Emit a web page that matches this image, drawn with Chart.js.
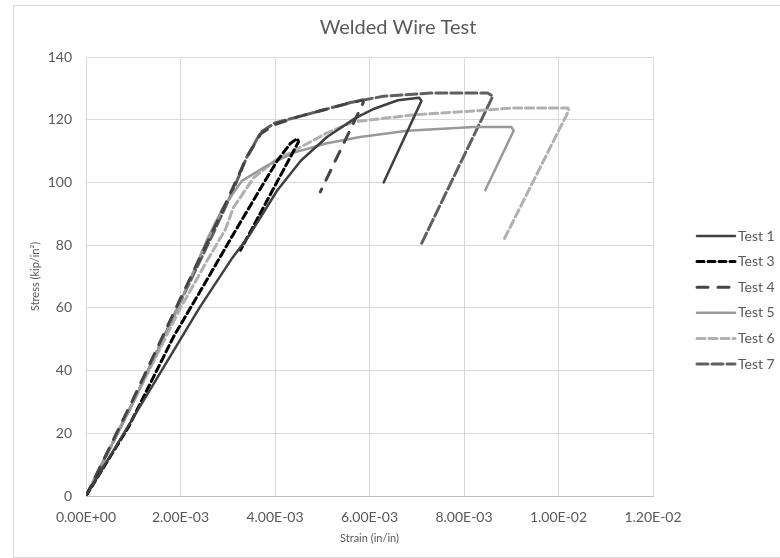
<!DOCTYPE html>
<html>
<head>
<meta charset="utf-8">
<title>Welded Wire Test</title>
<script src="https://cdn.jsdelivr.net/npm/chart.js@4.4.1/dist/chart.umd.min.js"></script>
<style>
  body { margin: 0; background: #fff; }
  #wrap { position: relative; width: 780px; height: 558px; overflow: hidden; }
  #frame { position: absolute; left: 13px; top: 5px; width: 800px; height: 551px;
           border: 1px solid #d9d9d9; pointer-events: none; }
  canvas { position: absolute; left: 0; top: 0; }
</style>
</head>
<body>
<div id="wrap">
  <canvas id="chart" width="780" height="558"></canvas>
  <div id="frame"></div>
</div>
<script>
// Welded wire stress-strain curves
const chartTitle = 'Welded Wire Test';
const testLabels = ['Test 1', 'Test 3', 'Test 4', 'Test 5', 'Test 6', 'Test 7'];

const strainTest1 = [0, 0.0008, 0.0016, 0.0024, 0.0031, 0.00345, 0.00405, 0.00455, 0.0051, 0.0057, 0.0061, 0.0066, 0.00705, 0.0071, 0.0063];
const stressTest1 = [0, 20, 40, 60, 76, 83, 97.5, 107, 114.5, 120.5, 123.5, 126.2, 127, 126, 100];

const strainTest3 = [0, 0.0009, 0.00185, 0.0026, 0.0031, 0.00365, 0.00405, 0.00433, 0.00447, 0.0045, 0.00327];
const stressTest3 = [0, 22, 50.7, 70, 83, 97, 107, 112.5, 114, 113, 78.4];

const strainTest4 = [0, 0.001, 0.002, 0.0027, 0.0031, 0.0034, 0.0037, 0.004, 0.0045, 0.005, 0.0055, 0.00585, 0.00587, 0.00496];
const stressTest4 = [0, 31, 63, 85, 98, 108, 115.5, 118.5, 121, 123, 125, 126.3, 125.5, 97];

const strainTest5 = [0, 0.001, 0.002, 0.00257, 0.0029, 0.0033, 0.00385, 0.0044, 0.0051, 0.0058, 0.0068, 0.0082, 0.009, 0.00905, 0.00845];
const stressTest5 = [0, 30, 62, 82, 92, 100.5, 105.5, 109.5, 112.5, 114.5, 116.5, 117.7, 117.7, 116.5, 97.5];

const strainTest6 = [0, 0.001, 0.002, 0.0026, 0.00295, 0.00312, 0.00355, 0.004, 0.00455, 0.0051, 0.00566, 0.0069, 0.0084, 0.009, 0.0102, 0.01022, 0.00884];
const stressTest6 = [0, 30, 60, 76, 85, 92, 101.5, 107, 111.3, 115.8, 119.3, 121.5, 123, 123.7, 123.7, 123, 81.6];

const strainTest7 = [0, 0.001, 0.002, 0.0027, 0.0031, 0.0034, 0.0037, 0.004, 0.0045, 0.005, 0.0056, 0.0063, 0.0073, 0.0085, 0.00861, 0.0071];
const stressTest7 = [0, 30, 62, 84, 97, 108, 116, 119, 121, 123, 125.5, 127.5, 128.5, 128.5, 127.5, 80.5];

const xTicks = [0, 0.002, 0.004, 0.006, 0.008, 0.010, 0.012];
const yTicks = [0, 20, 40, 60, 80, 100, 120, 140];

const textColor = '#595959';
const gridColor = '#d9d9d9';

function toPoints(xs, ys) {
    return xs.map((x, i) => ({ x: x, y: ys[i] }));
}

// Excel style scientific label, e.g. 2.00E-03
function formatSci(value) {
    if (value === 0) return '0.00E+00';
    const parts = value.toExponential(2).toUpperCase().split('E');
    const exp = parseInt(parts[1], 10);
    const sign = exp < 0 ? '-' : '+';
    const digits = String(Math.abs(exp)).padStart(2, '0');
    return `${parts[0]}E${sign}${digits}`;
}

const series = [
    { data: toPoints(strainTest1, stressTest1), color: '#404040', dash: [], width: 2.5 },
    { data: toPoints(strainTest3, stressTest3), color: '#000000', dash: [7, 4], width: 3 },
    { data: toPoints(strainTest4, stressTest4), color: '#454545', dash: [11, 10], width: 3 },
    { data: toPoints(strainTest5, stressTest5), color: '#999999', dash: [], width: 2.5 },
    { data: toPoints(strainTest6, stressTest6), color: '#b0b0b0', dash: [8, 4], width: 3 },
    { data: toPoints(strainTest7, stressTest7), color: '#5f5f5f', dash: [11, 4], width: 3 }
];

// title and legend drawn by hand: title centred on the whole frame,
// legend keeps the dash patterns like the Excel one
const titleAndLegend = {
    id: 'titleAndLegend',
    afterDraw(chart) {
        const c = chart.ctx;
        c.save();
        c.fillStyle = textColor;
        c.textAlign = 'center';
        c.textBaseline = 'middle';
        c.font = '20px Lato';
        c.fillText(chartTitle, 398, 28);

        const left = 697, lineLen = 38, top = 236, step = 25.6;
        c.textAlign = 'left';
        c.font = '14px Lato';
        chart.data.datasets.forEach((ds, i) => {
            const y = top + i * step;
            c.strokeStyle = ds.borderColor;
            c.lineWidth = ds.borderWidth;
            c.lineCap = 'round';
            c.setLineDash(ds.borderDash);
            c.beginPath();
            c.moveTo(left, y);
            c.lineTo(left + lineLen, y);
            c.stroke();
            c.setLineDash([]);
            c.fillStyle = textColor;
            c.fillText(ds.label, left + lineLen + 3, y);
        });
        c.restore();
    }
};

const ctx = document.getElementById('chart').getContext('2d');

new Chart(ctx, {
    type: 'line',
    data: {
        datasets: series.map((s, i) => ({
            label: testLabels[i],
            data: s.data,
            borderColor: s.color,
            backgroundColor: s.color,
            borderDash: s.dash,
            borderWidth: s.width,
            borderCapStyle: 'round',
            borderJoinStyle: 'round',
            pointRadius: 0,
            tension: 0,
            fill: false
        }))
    },
    options: {
        responsive: false,
        animation: false,
        layout: { padding: { left: 0, right: 127, top: 57, bottom: 0 } },
        plugins: {
            legend: { display: false },
            tooltip: { enabled: false }
        },
        scales: {
            x: {
                type: 'linear',
                min: 0,
                max: 0.012,
                afterBuildTicks: (axis) => { axis.ticks = xTicks.map(v => ({ value: v })); },
                afterFit: (axis) => { axis.height = 62; },
                ticks: {
                    color: textColor,
                    font: { family: 'Lato', size: 14 },
                    callback: (value) => formatSci(value),
                    padding: 13,
                    maxRotation: 0
                },
                grid: { color: gridColor, drawTicks: false },
                border: { color: '#bfbfbf' },
                title: {
                    display: true,
                    text: 'Strain (in/in)',
                    color: textColor,
                    font: { family: 'Lato', size: 11 },
                    padding: { top: 5, bottom: 13 }
                }
            },
            y: {
                min: 0,
                max: 140,
                afterBuildTicks: (axis) => { axis.ticks = yTicks.map(v => ({ value: v })); },
                afterFit: (axis) => { axis.width = 86; },
                ticks: {
                    color: textColor,
                    font: { family: 'Lato', size: 14 },
                    padding: 14
                },
                grid: { color: gridColor, drawTicks: false },
                border: { display: false },
                title: {
                    display: true,
                    text: 'Stress (kip/in²)',
                    color: textColor,
                    font: { family: 'Lato', size: 11 },
                    padding: { top: 29, bottom: 6 }
                }
            }
        }
    },
    plugins: [titleAndLegend]
});
</script>
</body>
</html>
